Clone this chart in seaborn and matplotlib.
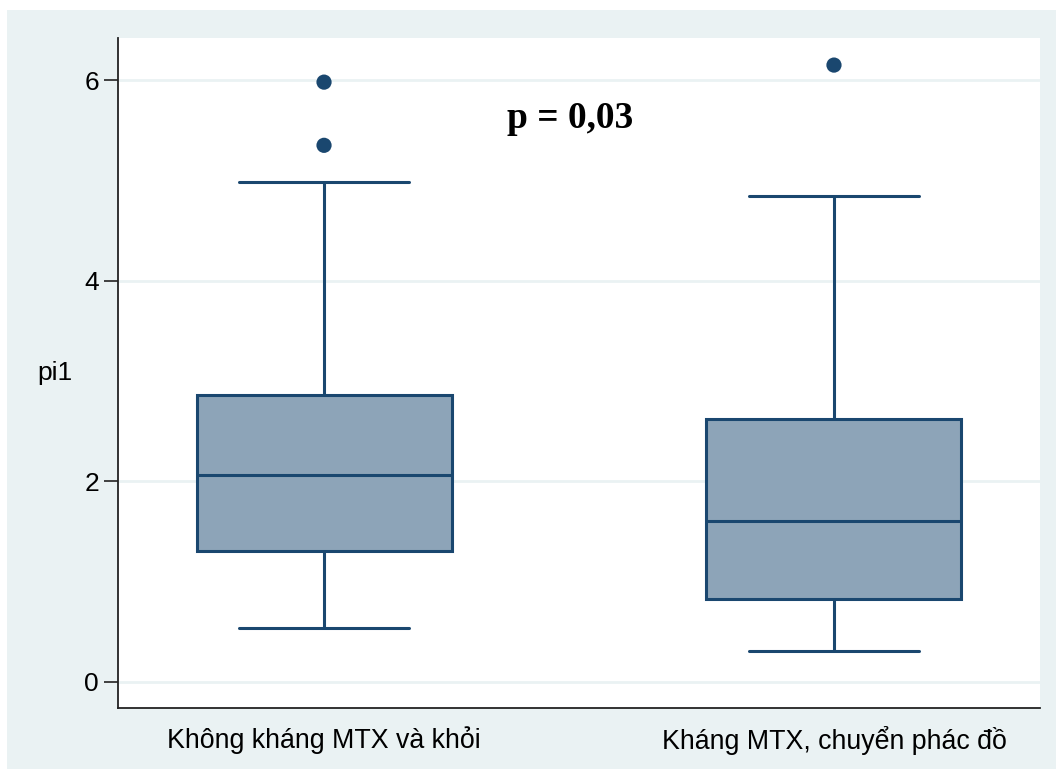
import matplotlib
matplotlib.use("Agg")
import matplotlib.pyplot as plt
from matplotlib.patches import Rectangle
import seaborn as sns
import pandas as pd

# Group labels and five-number summaries of pi1
groups = ["Không kháng MTX và khỏi", "Kháng MTX, chuyển phác đồ"]
whisker_low = [0.54, 0.31]
q1 = [1.31, 0.83]
median = [2.06, 1.60]
q3 = [2.86, 2.62]
whisker_high = [4.98, 4.84]
outliers = [[5.35, 5.98], [6.15]]
yticks = [0, 2, 4, 6]
p_label = "p = 0,03"

navy = "#1A476F"
box_fill = "#8DA4B8"
bg = "#EAF2F3"

sns.set_style("white")
plt.rcParams["font.family"] = ["Liberation Sans", "DejaVu Sans"]
plt.rcParams["text.color"] = "black"
plt.rcParams["axes.labelcolor"] = "black"
plt.rcParams["xtick.color"] = "black"
plt.rcParams["ytick.color"] = "black"

fig = plt.figure(figsize=(10.56, 7.69), dpi=100, facecolor="white")
fig.patches.append(Rectangle((7 / 1056, 0), 1, 1 - 10 / 769, transform=fig.transFigure,
                             facecolor=bg, edgecolor="none", zorder=-10))
ax = fig.add_axes([118 / 1056, 1 - 708 / 769, (1040 - 118) / 1056, (708 - 38) / 769])
ax.set_facecolor("white")

stats = []
for i, g in enumerate(groups):
    stats.append(dict(label=g, whislo=whisker_low[i], q1=q1[i], med=median[i],
                      q3=q3[i], whishi=whisker_high[i], fliers=[]))

line = dict(color=navy, linewidth=2.2)
ax.bxp(stats, positions=[0, 1], widths=0.5, capwidths=0.335, patch_artist=True,
       showfliers=False,
       boxprops=dict(facecolor=box_fill, edgecolor=navy, linewidth=2.2),
       medianprops=line, whiskerprops=line, capprops=line, zorder=3)

out_df = pd.DataFrame([(i, v) for i, vals in enumerate(outliers) for v in vals],
                      columns=["pos", "pi1"])
sns.scatterplot(data=out_df, x="pos", y="pi1", ax=ax, color=navy, s=120,
                edgecolor="none", zorder=4, legend=False)

ax.set_xlim(-0.404, 1.404)
ax.set_ylim(-0.26, 6.42)
ax.set_yticks(yticks)
ax.set_yticklabels([str(t) for t in yticks])
ax.set_xticks([0, 1])
ax.set_xticklabels(groups)
ax.grid(axis="y", color=bg, linewidth=2, zorder=0)
ax.set_axisbelow(True)

for side in ["top", "right"]:
    ax.spines[side].set_visible(False)
for side in ["left", "bottom"]:
    ax.spines[side].set_color("#222222")
    ax.spines[side].set_linewidth(1.3)

ax.tick_params(axis="y", direction="out", length=10, width=1.2, color="#222222",
               labelsize=19, pad=3.6, left=True)
ax.tick_params(axis="x", length=0, labelsize=19.3, pad=13)

ax.set_xlabel("")
ax.set_ylabel("pi1", rotation=0, fontsize=19, labelpad=21, va="center")

ax.text(0.482, 5.62, p_label, ha="center", va="center", fontsize=27,
        fontweight="bold", family=["Liberation Serif", "DejaVu Serif"], zorder=5)

fig.savefig("out.png", dpi=100, facecolor=fig.get_facecolor())
